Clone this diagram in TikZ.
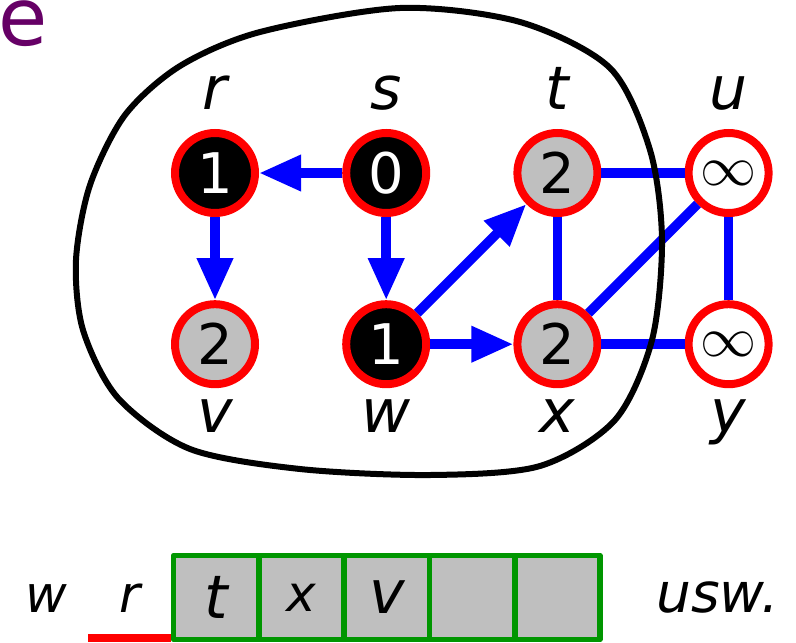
\documentclass[tikz,border=0pt]{standalone}
\usepackage{fix-cm}
\usepackage{fontspec}
\setmainfont{DejaVu Sans}
\usetikzlibrary{arrows.meta,positioning}
\definecolor{qgreen}{RGB}{0,150,0}
\definecolor{dpurple}{RGB}{102,0,102}

\begin{document}
\begin{tikzpicture}[
    x=0.5pt, y=-0.5pt,
    on grid,
    node distance=85.6pt,
    vtx/.style={draw=red, circle, line width=4pt, minimum size=40pt, inner sep=0pt, font=\fontsize{28}{34}\selectfont},
    done/.style={vtx, fill=black, text=white},
    seen/.style={vtx, fill=lightgray},
    fresh/.style={vtx, fill=white},
    lbl/.style={font=\fontsize{30}{36}\selectfont\itshape, anchor=base, inner sep=0pt},
    qcell/.style={draw=qgreen, fill=lightgray, line width=2.8pt, line join=round, minimum width=42.65pt, minimum height=42pt, inner sep=0pt},
    arr/.style={-{Triangle[length=21pt,width=17pt]}, blue, line width=4.8pt},
    edg/.style={blue, line width=4.8pt}
]
\useasboundingbox (0,0) rectangle (796,642);

% Frame letter
\node[anchor=base west, inner sep=0pt, text=dpurple, font=\fontsize{40}{48}\selectfont] (frame) at (-2,46) {e};

% Vertices
\node[done] (r) at (215,173) {1};
\node[done, right=of r] (s) {0};
\node[seen, right=of s] (t) {2};
\node[fresh, right=of t] (u) {$\infty$};
\node[seen, below=of r] (v) {2};
\node[done, below=of s] (w) {1};
\node[seen, below=of t] (x) {2};
\node[fresh, below=of u] (y) {$\infty$};

% Vertex names
\node[above=31.5pt of r, lbl] (rl) {r};
\node[above=31.5pt of s, lbl] (sl) {s};
\node[above=31.5pt of t, lbl] (tl) {t};
\node[above=31.5pt of u, lbl] (ul) {u};
\node[below=44pt of v, lbl] (vl) {v};
\node[below=44pt of w, lbl] (wl) {w};
\node[below=44pt of x, lbl] (xl) {x};
\node[below=44pt of y, lbl] (yl) {y};

% Tree edges
\draw[arr] (s) -- (r);
\draw[arr] (r) -- (v);
\draw[arr] (s) -- (w);
\draw[arr] (w) -- (t);
\draw[arr] (w) -- (x);

% Other edges
\draw[edg] (t) -- (u);
\draw[edg] (t) -- (x);
\draw[edg] (x) -- (u);
\draw[edg] (x) -- (y);
\draw[edg] (u) -- (y);

% Visited region
\draw[line width=3pt] plot[smooth cycle] coordinates {(400,8) (520,22) (610,68) (650,150) (662,240) (652,340) (615,420) (540,466) (430,475) (300,469) (190,449) (118,398) (83,330) (76,260) (90,185) (125,115) (180,66) (260,32)};

% Queue
\node[qcell, font=\fontsize{30}{36}\selectfont\itshape] (q1) at (216.15,597.5) {t};
\node[qcell, right=42.65pt of q1, font=\fontsize{25}{30}\selectfont\itshape] (q2) {x};
\node[qcell, right=42.65pt of q2, font=\fontsize{30}{36}\selectfont\itshape] (q3) {v};
\node[qcell, right=42.65pt of q3] (q4) {};
\node[qcell, right=42.65pt of q4] (q5) {};

\node[anchor=base, inner sep=0pt, font=\fontsize{25.5}{30}\selectfont\itshape] (cur) at (46,612) {w};
\node[anchor=base, inner sep=0pt, font=\fontsize{25.5}{30}\selectfont\itshape] (head) at (130,612) {r};
\node[anchor=base west, inner sep=0pt, font=\fontsize{27.5}{33}\selectfont\itshape] (etc) at (656,612) {usw.};

\coordinate (mark) at (88,638);
\draw[red, line width=4pt] (mark) -- (mark -| q1.west);

\end{tikzpicture}
\end{document}
